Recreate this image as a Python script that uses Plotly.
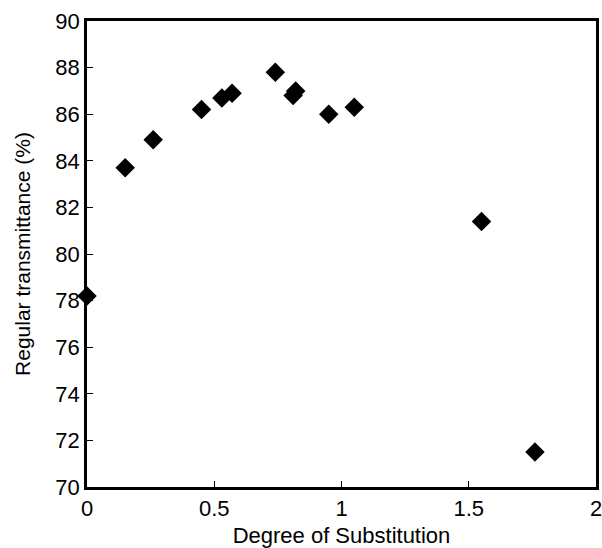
import plotly.graph_objects as go

# Degree of substitution vs. regular transmittance
degree_of_substitution = [0.0, 0.15, 0.26, 0.45, 0.53, 0.57, 0.74, 0.82, 0.81, 0.95, 1.05, 1.55, 1.76]
transmittance = [78.2, 83.7, 84.9, 86.2, 86.7, 86.9, 87.8, 87.0, 86.8, 86.0, 86.3, 81.4, 71.5]

x_ticks = [0, 0.5, 1, 1.5, 2]
x_tick_text = ["0", "0.5", "1", "1.5", "2"]
y_ticks = [70, 72, 74, 76, 78, 80, 82, 84, 86, 88, 90]

FONT = "Liberation Sans, Arial, sans-serif"

fig = go.Figure(
    go.Scatter(
        x=degree_of_substitution,
        y=transmittance,
        mode="markers",
        marker=dict(symbol="diamond", size=15, color="black"),
        cliponaxis=False,
        showlegend=False,
    )
)

axis_common = dict(
    automargin=False,
    ticklabeloverflow="allow",
    showline=True,
    linecolor="black",
    linewidth=2.5,
    mirror=True,
    showgrid=False,
    zeroline=False,
    ticks="inside",
    ticklen=6,
    tickwidth=1,
    tickcolor="black",
    tickfont=dict(family=FONT, size=22, color="black"),
)

fig.update_xaxes(
    range=[0, 2],
    tickvals=x_ticks,
    ticktext=x_tick_text,
    title=dict(text="Degree of Substitution", font=dict(family=FONT, size=22, color="black"), standoff=14),
    **axis_common,
)
fig.update_yaxes(
    range=[70, 90],
    tickvals=y_ticks,
    title=dict(text="Regular transmittance (%)", font=dict(family=FONT, size=21, color="black"), standoff=20),
    **axis_common,
)

fig.update_layout(
    template="none",
    width=602,
    height=548,
    margin=dict(l=87, r=6, t=21, b=61),
    plot_bgcolor="white",
    paper_bgcolor="white",
)

fig.write_html("out.html")
